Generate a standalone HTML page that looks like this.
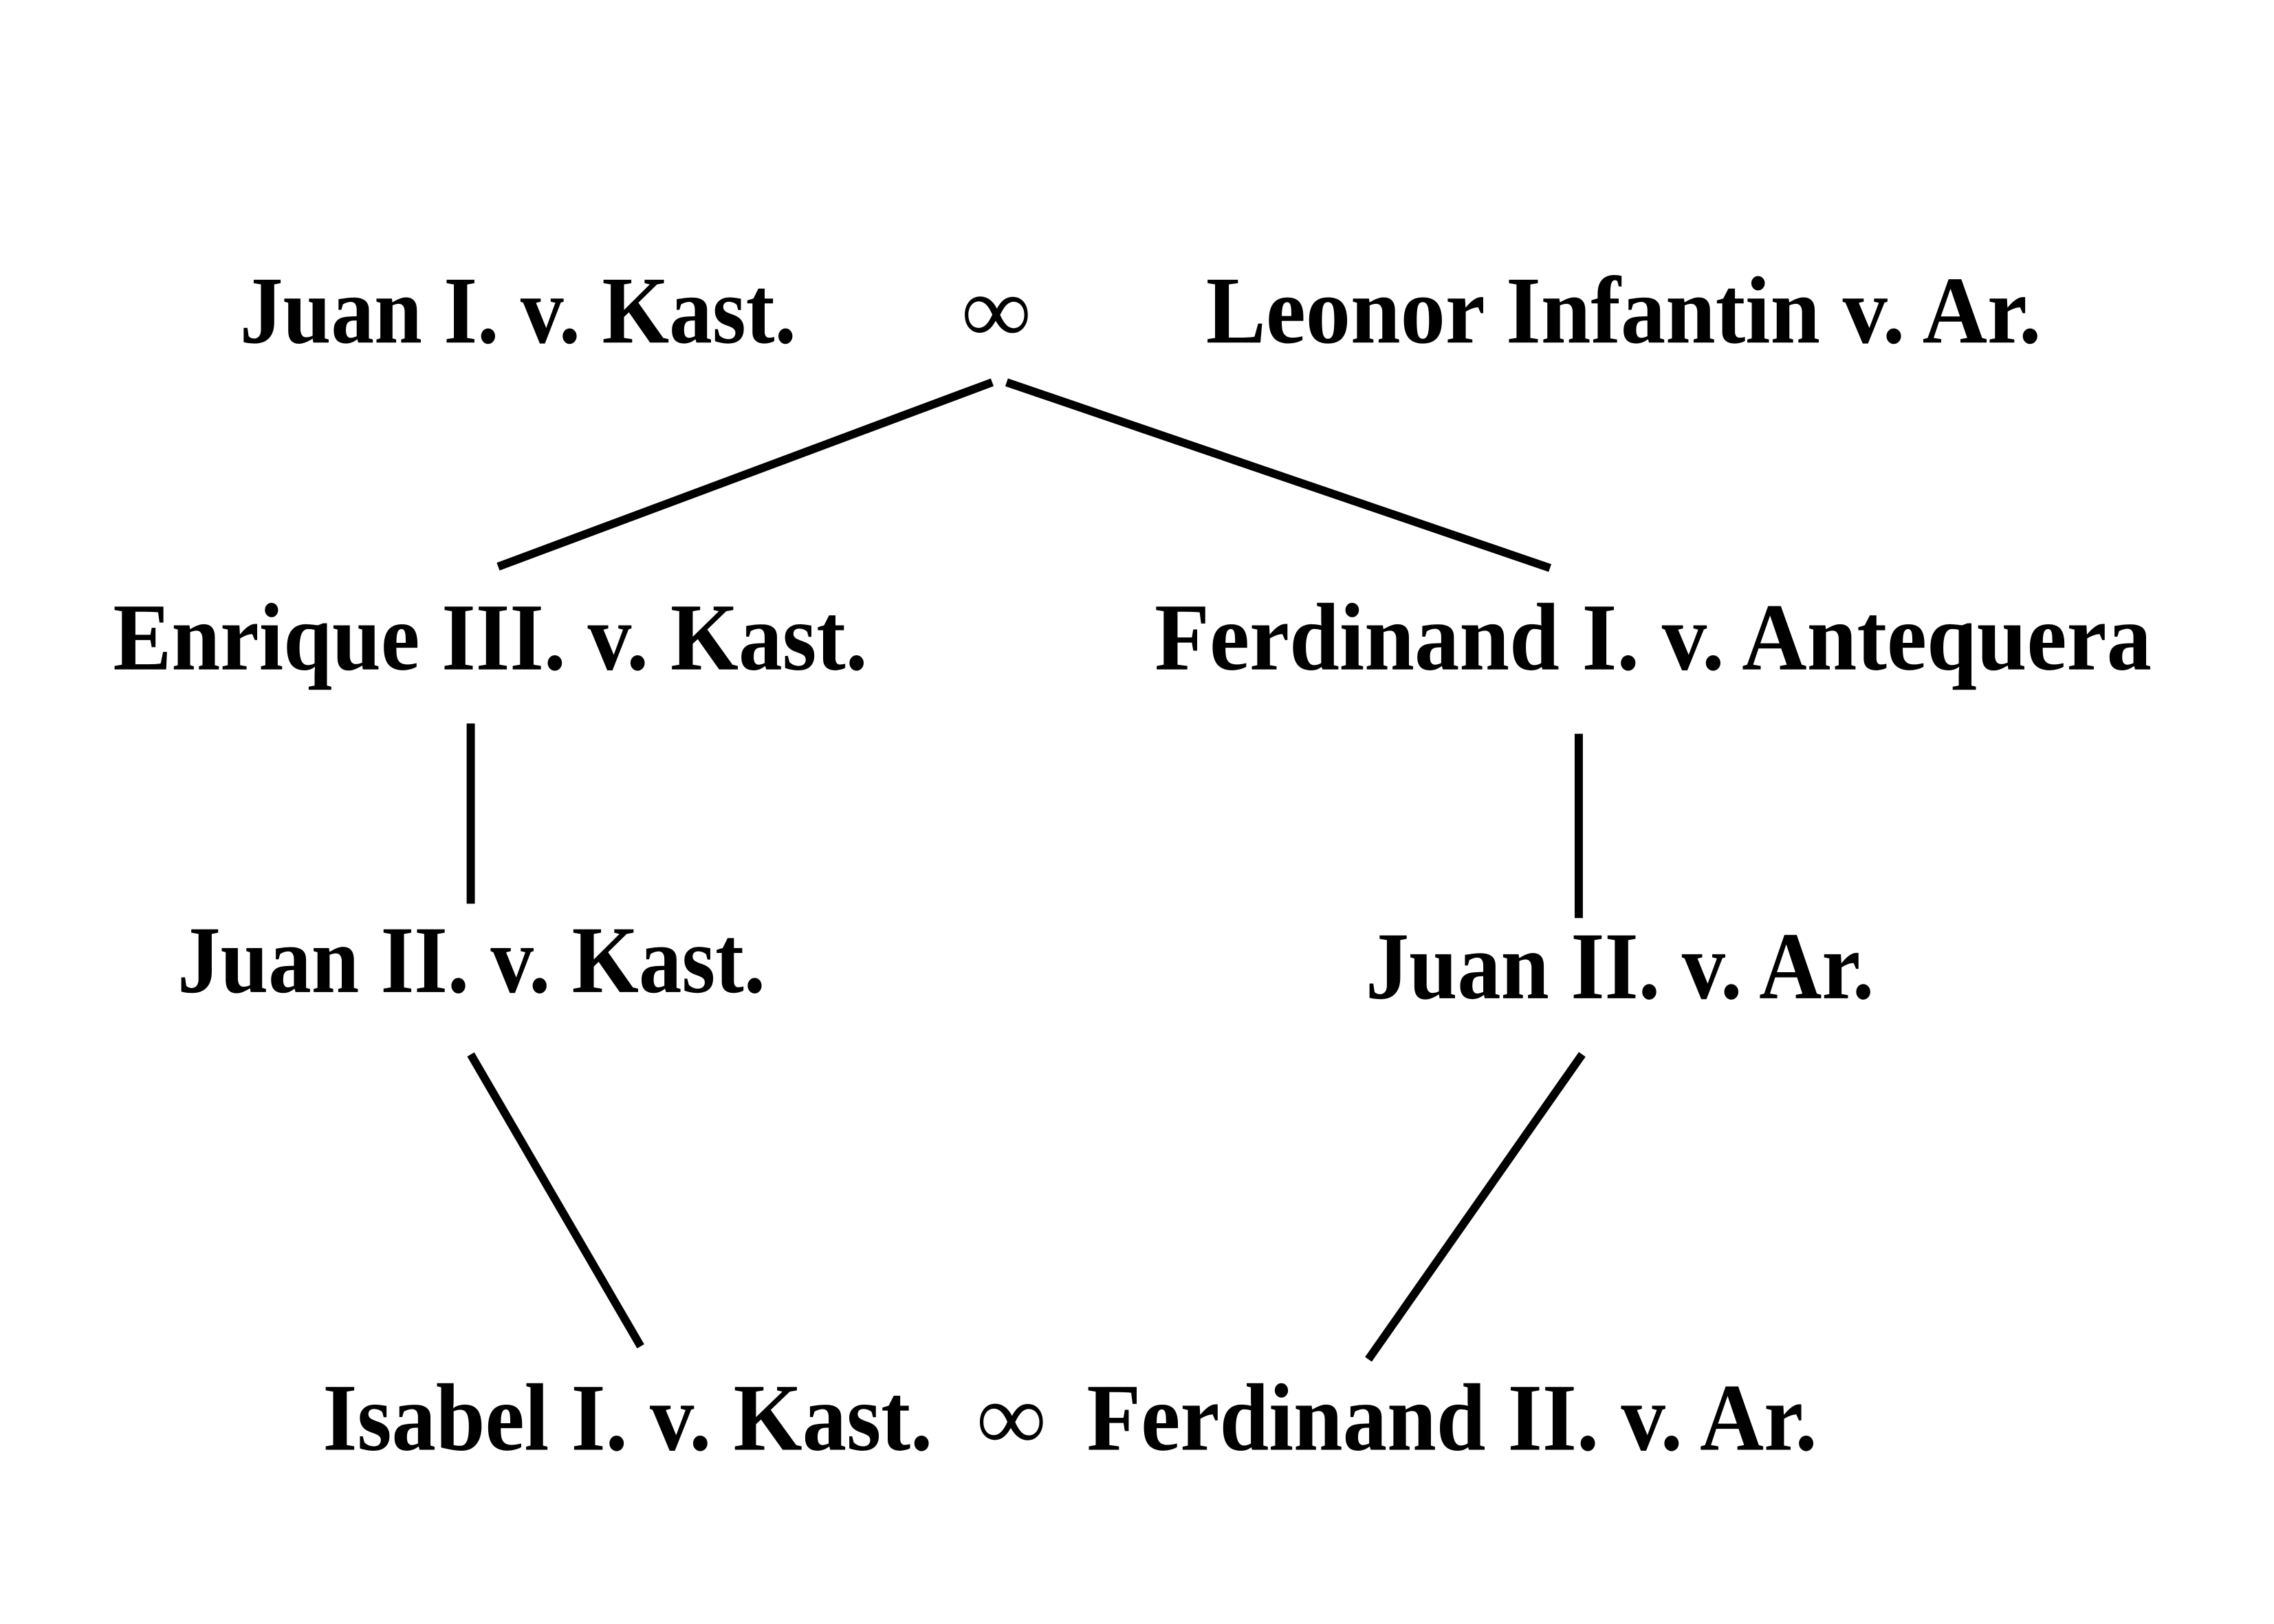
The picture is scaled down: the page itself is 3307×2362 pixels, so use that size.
<!DOCTYPE html>
<html><head><meta charset="utf-8"><style>
html,body{margin:0;padding:0;background:#fff;}
svg{display:block;}
text{font-family:"Liberation Serif",serif;font-weight:bold;font-size:140px;fill:#000;}
</style></head><body>
<svg width="3307" height="2362" viewBox="0 0 3307 2362" xmlns="http://www.w3.org/2000/svg">
<rect width="3307" height="2362" fill="#fff"/>
<g transform="scale(0.9965)">
<g stroke="#000" stroke-width="12" stroke-linecap="butt" fill="none">
<line x1="1448" y1="558" x2="727" y2="827"/>
<line x1="1469" y1="558" x2="2262" y2="829"/>
<line x1="687" y1="1056" x2="687" y2="1319"/>
<line x1="2304" y1="1071" x2="2304" y2="1340"/>
<line x1="687" y1="1539" x2="935" y2="1965"/>
<line x1="2309" y1="1539" x2="1997" y2="1984"/>
</g>
<text x="350" y="500" textLength="812" lengthAdjust="spacingAndGlyphs">Juan I. v. Kast.</text>
<text x="1454" y="500" text-anchor="middle">∞</text>
<text x="1760" y="500" textLength="1219" lengthAdjust="spacingAndGlyphs">Leonor Infantin v. Ar.</text>
<text x="165" y="977" textLength="1101" lengthAdjust="spacingAndGlyphs">Enrique III. v. Kast.</text>
<text x="1685" y="977" textLength="1455" lengthAdjust="spacingAndGlyphs">Ferdinand I. v. Antequera</text>
<text x="259" y="1448" textLength="858" lengthAdjust="spacingAndGlyphs">Juan II. v. Kast.</text>
<text x="1993" y="1457" textLength="742" lengthAdjust="spacingAndGlyphs">Juan II. v. Ar.</text>
<text x="471" y="2116" textLength="890" lengthAdjust="spacingAndGlyphs">Isabel I. v. Kast.</text>
<text x="1476" y="2116" text-anchor="middle">∞</text>
<text x="1586" y="2116" textLength="1066" lengthAdjust="spacingAndGlyphs">Ferdinand II. v. Ar.</text>
</g>
</svg>
</body></html>
